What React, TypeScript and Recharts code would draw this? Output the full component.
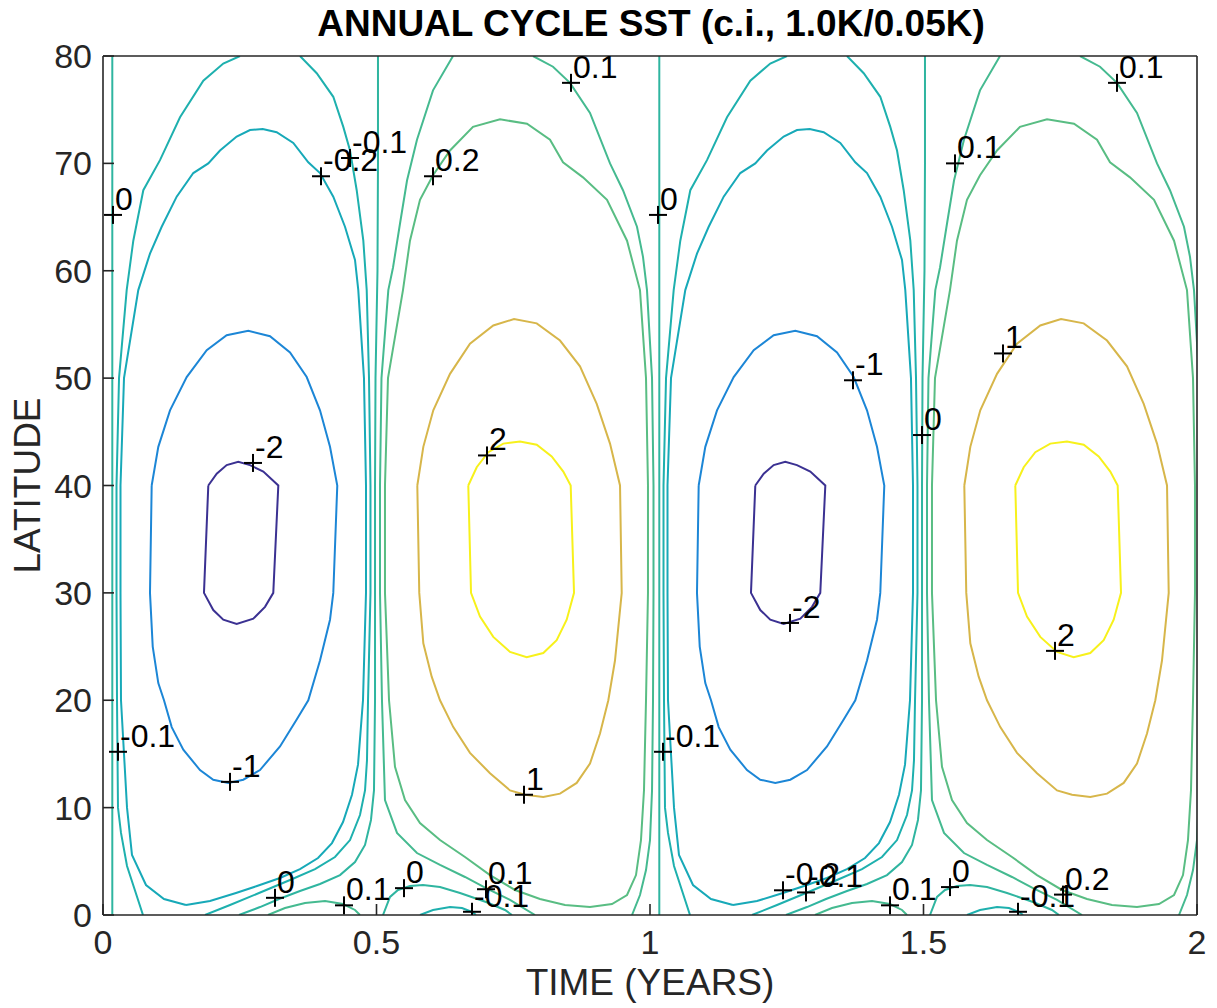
import React from 'react';
import { ComposedChart, Line, Scatter, XAxis, YAxis } from 'recharts';

const FONT = '"Liberation Sans", Arial, Helvetica, sans-serif';
const TITLE = 'ANNUAL CYCLE SST (c.i., 1.0K/0.05K)';
const X_TICKS = [0, 0.5, 1, 1.5, 2];
const Y_TICKS = [0, 10, 20, 30, 40, 50, 60, 70, 80];

// contour lines of the first year, [time (years), latitude]
const zeroWest = [[0.017, 0], [0.017, 80]];
const minus2Loop = [[0.1925, 40], [0.2079, 41.1], [0.2261, 41.9], [0.2473, 42.2], [0.2687, 41.9], [0.2931, 41.3], [0.3205, 40], [0.3113, 30], [0.2962, 28.7], [0.2748, 27.6], [0.2444, 27.1], [0.2199, 27.5], [0.2016, 28.4], [0.1846, 30], [0.1925, 40]];
const minus1Loop = [[0.089, 40], [0.1011, 43.6], [0.1225, 47.0], [0.153, 50.1], [0.1896, 52.6], [0.2261, 54.0], [0.2656, 54.4], [0.3053, 53.9], [0.3419, 52.4], [0.3724, 50.1], [0.3967, 47.0], [0.415, 43.6], [0.4283, 40], [0.421, 30], [0.415, 27.5], [0.3967, 23.7], [0.3753, 20], [0.3541, 18.2], [0.3236, 15.7], [0.287, 13.5], [0.2565, 12.6], [0.2291, 12.3], [0.2016, 12.6], [0.1773, 13.5], [0.1468, 15.4], [0.1256, 17.5], [0.1115, 20], [0.1011, 21.6], [0.0909, 25.0], [0.0859, 30], [0.089, 40]];
const plus1Loop = [[0.5746, 40], [0.5856, 43.6], [0.6038, 47.0], [0.6344, 50.4], [0.6709, 53.2], [0.7135, 54.9], [0.7514, 55.5], [0.7929, 55.1], [0.8355, 53.5], [0.872, 51.1], [0.9026, 47.6], [0.9269, 43.9], [0.9452, 40], [0.9483, 30], [0.936, 23.7], [0.9238, 20], [0.9086, 16.9], [0.8903, 14.1], [0.866, 12.3], [0.8355, 11.3], [0.8049, 11.0], [0.7715, 11.2], [0.7441, 11.6], [0.7075, 13.2], [0.6709, 15.1], [0.6404, 17.5], [0.6161, 20], [0.6009, 22.2], [0.5856, 25.3], [0.5782, 30], [0.5746, 40]];
const plus2Loop = [[0.6678, 40], [0.6832, 41.7], [0.7044, 43.1], [0.7318, 43.9], [0.7623, 44.1], [0.7929, 43.8], [0.8203, 42.7], [0.8415, 41.3], [0.855, 40], [0.8611, 30], [0.8477, 27.5], [0.8294, 25.6], [0.8049, 24.4], [0.7746, 24.0], [0.7441, 24.5], [0.7135, 25.9], [0.6892, 27.8], [0.6728, 30], [0.6678, 40]];
const minus02Loop = [[0.1517, 0.93], [0.1115, 1.49], [0.0786, 2.79], [0.053, 5.59], [0.0439, 10], [0.0329, 20], [0.032, 30], [0.032, 40], [0.0384, 50], [0.0645, 58.2], [0.0859, 61.6], [0.1073, 64.1], [0.1347, 66.9], [0.1651, 69.1], [0.1925, 70.0], [0.2139, 71.2], [0.2444, 72.5], [0.2687, 73.1], [0.292, 73.2], [0.3175, 72.9], [0.3479, 71.9], [0.3753, 70.1], [0.3967, 69.1], [0.421, 66.9], [0.4424, 64.1], [0.4607, 61.0], [0.4667, 58.2], [0.4771, 50], [0.4808, 40], [0.4808, 30], [0.4753, 20], [0.4662, 14.0], [0.4552, 11.2], [0.4388, 8.66], [0.4186, 6.7], [0.3931, 5.31], [0.3601, 4.28], [0.3236, 3.45], [0.2815, 2.7], [0.2431, 2.05], [0.1956, 1.3], [0.1517, 0.93]];
const minus01West = [[0.0731, 0], [0.0439, 4.56], [0.0329, 7.64], [0.0274, 10], [0.0256, 20], [0.0247, 30], [0.0247, 40], [0.0293, 50], [0.0433, 58.2], [0.0554, 62.8], [0.0737, 67.5], [0.1042, 70.3], [0.1408, 74.3], [0.1834, 77.7], [0.2199, 79.3], [0.2505, 80]];
const minus01East = [[0.3601, 80], [0.3907, 78.4], [0.421, 76.2], [0.4393, 73.4], [0.4516, 71.2], [0.4638, 67.5], [0.4759, 62.8], [0.4821, 58.2], [0.4863, 50], [0.489, 40], [0.489, 30], [0.4845, 20], [0.4826, 14.4], [0.479, 11.6], [0.4698, 9.31], [0.4516, 6.98], [0.4241, 5.4], [0.3876, 4.28], [0.3419, 3.26], [0.2852, 2.05], [0.2322, 0.93], [0.1865, 0]];
const zeroEast = [[0.5027, 80], [0.5027, 70], [0.5018, 60], [0.4982, 50], [0.4973, 40], [0.4973, 30], [0.4973, 20], [0.4954, 11.6], [0.4899, 8.85], [0.479, 6.52], [0.4607, 4.93], [0.4333, 3.72], [0.3967, 2.89], [0.3601, 2.23], [0.3218, 1.49], [0.287, 0.74], [0.2486, 0]];
const plus01Bump = [[0.3016, 0], [0.3327, 0.65], [0.3693, 1.12], [0.4059, 1.3], [0.4388, 1.02], [0.4607, 0.47], [0.4698, 0]];
const plus01West = [[0.6399, 80], [0.6033, 76.8], [0.574, 72.2], [0.5558, 68.4], [0.543, 64.4], [0.5302, 60.3], [0.5216, 58.2], [0.5091, 50], [0.5064, 40], [0.5064, 30], [0.51, 20], [0.5155, 10.7], [0.5375, 7.64], [0.574, 5.77], [0.6161, 4.66], [0.6618, 3.54], [0.7002, 2.51], [0.7441, 1.4], [0.7898, 0]];
const zeroArch = [[0.5119, 0], [0.5247, 1.68], [0.5393, 2.33], [0.5612, 2.7], [0.585, 2.79], [0.6161, 2.61], [0.6527, 2.05], [0.7002, 1.21], [0.7349, 0.47], [0.7477, 0]];
const minus01Bump = [[0.5795, 0], [0.6033, 0.47], [0.6344, 0.74], [0.6563, 0.65], [0.6746, 0.28], [0.6819, 0]];
const plus02Loop = [[0.5229, 20], [0.5155, 30], [0.5155, 40], [0.521, 50], [0.5484, 58.2], [0.5612, 62.8], [0.5795, 66.6], [0.6033, 68.9], [0.6344, 71.2], [0.6764, 73.4], [0.7258, 74.1], [0.7751, 73.7], [0.8172, 72.2], [0.841, 70.1], [0.8775, 68.7], [0.9214, 66.6], [0.958, 62.8], [0.9817, 58.2], [0.9927, 50], [0.9963, 40], [0.9963, 30], [0.9927, 20], [0.989, 11.6], [0.9835, 6.98], [0.9744, 3.72], [0.958, 1.86], [0.9305, 1.02], [0.8903, 0.74], [0.8446, 0.93], [0.7989, 1.49], [0.7532, 2.33], [0.7075, 3.72], [0.6618, 5.4], [0.6161, 6.98], [0.5795, 8.57], [0.5521, 10.7], [0.5338, 13.8], [0.5229, 20]];
const plus01East = [[0.9671, 0], [0.9817, 1.86], [0.9927, 4.19], [1.0, 6.98], [1.0037, 11.6], [1.0055, 20], [1.0064, 30], [1.0064, 40], [1.0037, 50], [0.9945, 58.2], [0.9872, 61.3], [0.9762, 64.1], [0.9506, 67.5], [0.9269, 70.0], [0.8903, 74.7], [0.8537, 77.5], [0.8227, 79.0], [0.7861, 80]];

const LEVEL_COLOR: Record<string, string> = {
  '-2': '#3b3192',
  '-1': '#1c86d6',
  '-0.2': '#17a9b8',
  '-0.1': '#1eb0ae',
  '0': '#2fb5a0',
  '0.1': '#45ba90',
  '0.2': '#59bd83',
  '1': '#d7b64a',
  '2': '#f7f11b',
};

const CONTOURS: { id: string; level: string; pts: number[][] }[] = [
  { id: 'zeroWest', level: '0', pts: zeroWest },
  { id: 'minus2Loop', level: '-2', pts: minus2Loop },
  { id: 'minus1Loop', level: '-1', pts: minus1Loop },
  { id: 'plus1Loop', level: '1', pts: plus1Loop },
  { id: 'plus2Loop', level: '2', pts: plus2Loop },
  { id: 'minus02Loop', level: '-0.2', pts: minus02Loop },
  { id: 'minus01West', level: '-0.1', pts: minus01West },
  { id: 'minus01East', level: '-0.1', pts: minus01East },
  { id: 'zeroEast', level: '0', pts: zeroEast },
  { id: 'plus01Bump', level: '0.1', pts: plus01Bump },
  { id: 'plus01West', level: '0.1', pts: plus01West },
  { id: 'zeroArch', level: '0', pts: zeroArch },
  { id: 'minus01Bump', level: '-0.1', pts: minus01Bump },
  { id: 'plus02Loop', level: '0.2', pts: plus02Loop },
  { id: 'plus01East', level: '0.1', pts: plus01East },
];

// contour labels (clabel "+" markers)
const LABELS = [
  { t: 0.0183, lat: 65.2, text: '0' },
  { t: 0.3985, lat: 68.8, text: '-0.2' },
  { t: 0.4516, lat: 70.5, text: '-0.1' },
  { t: 0.6033, lat: 68.8, text: '0.2' },
  { t: 0.8556, lat: 77.5, text: '0.1' },
  { t: 0.2742, lat: 42.1, text: '-2' },
  { t: 0.702, lat: 42.8, text: '2' },
  { t: 0.2322, lat: 12.4, text: '-1' },
  { t: 0.7697, lat: 11.2, text: '1' },
  { t: 0.0274, lat: 15.2, text: '-0.1' },
  { t: 0.3144, lat: 1.6, text: '0' },
  { t: 0.4406, lat: 0.9, text: '0.1' },
  { t: 0.5503, lat: 2.5, text: '0' },
  { t: 0.7002, lat: 2.4, text: '0.1' },
  { t: 0.6746, lat: 0.3, text: '-0.1' },
  { t: 1.0146, lat: 65.2, text: '0' },
  { t: 1.5576, lat: 70.0, text: '0.1' },
  { t: 1.8537, lat: 77.5, text: '0.1' },
  { t: 1.3711, lat: 49.8, text: '-1' },
  { t: 1.4973, lat: 44.7, text: '0' },
  { t: 1.6453, lat: 52.3, text: '1' },
  { t: 1.2559, lat: 27.2, text: '-2' },
  { t: 1.7404, lat: 24.6, text: '2' },
  { t: 1.0238, lat: 15.2, text: '-0.1' },
  { t: 1.2431, lat: 2.3, text: '-0.2' },
  { t: 1.2852, lat: 2.1, text: '-0.1' },
  { t: 1.4388, lat: 0.9, text: '0.1' },
  { t: 1.5484, lat: 2.6, text: '0' },
  { t: 1.755, lat: 1.9, text: '0.2' },
  { t: 1.6728, lat: 0.3, text: '-0.1' },
];

const toPts = (a: number[][]) => a.map(([t, lat]) => ({ t, lat }));

const LabelShape = (props: any) => {
  const { cx, cy, payload } = props;
  if (cx == null || cy == null) return <g />;
  return (
    <g>
      <line x1={cx - 9} y1={cy} x2={cx + 9} y2={cy} stroke="#000" strokeWidth={2} />
      <line x1={cx} y1={cy - 9} x2={cx} y2={cy + 9} stroke="#000" strokeWidth={2} />
      <text x={cx + 2} y={cy - 5} fontSize={32} fill="#000" fontFamily={FONT}>
        {payload.text}
      </text>
    </g>
  );
};

const AXIS_STROKE = { stroke: '#262626', strokeWidth: 1.6 };

export default function App() {
  return (
    <div style={{ position: 'relative', width: 1209, height: 1000, fontFamily: FONT }}>
      <div
        style={{
          position: 'absolute',
          left: 143,
          width: 1000,
          top: -3,
          textAlign: 'center',
          fontSize: 37,
          lineHeight: '37px',
          fontWeight: 'bold',
          color: '#000',
          fontFamily: FONT,
          whiteSpace: 'nowrap',
        }}
      >
        {TITLE}
      </div>
      <ComposedChart
        width={1209}
        height={1000}
        margin={{ top: 47, right: 19, bottom: 8, left: 0 }}
        style={{ fontFamily: FONT }}
      >
        <XAxis
          type="number"
          dataKey="t"
          domain={[0, 2]}
          ticks={X_TICKS}
          interval={0}
          allowDataOverflow
          height={85}
          tickSize={-11}
          tickMargin={26}
          tick={{ fontSize: 34, fill: '#262626' }}
          axisLine={AXIS_STROKE}
          tickLine={AXIS_STROKE}
          label={{ value: 'TIME (YEARS)', position: 'insideBottom', offset: 5, style: { fontSize: 37, fill: '#262626' } }}
        />
        <XAxis xAxisId="shift" type="number" dataKey="t" domain={[-1, 1]} allowDataOverflow hide />
        <XAxis
          xAxisId="top"
          orientation="top"
          type="number"
          dataKey="t"
          domain={[0, 2]}
          ticks={X_TICKS}
          interval={0}
          allowDataOverflow
          height={1}
          tick={false}
          tickSize={-11}
          axisLine={AXIS_STROKE}
          tickLine={AXIS_STROKE}
        />
        <YAxis
          type="number"
          dataKey="lat"
          domain={[0, 80]}
          ticks={Y_TICKS}
          interval={0}
          allowDataOverflow
          width={95}
          tickSize={-11}
          tickMargin={22}
          tick={{ fontSize: 34, fill: '#262626' }}
          axisLine={AXIS_STROKE}
          tickLine={AXIS_STROKE}
          label={{ value: 'LATITUDE', angle: -90, position: 'insideLeft', offset: 19, style: { fontSize: 37, fill: '#262626', textAnchor: 'middle' } }}
        />
        <YAxis
          yAxisId="right"
          orientation="right"
          type="number"
          dataKey="lat"
          domain={[0, 80]}
          ticks={Y_TICKS}
          interval={0}
          allowDataOverflow
          width={1}
          tick={false}
          tickSize={-11}
          axisLine={AXIS_STROKE}
          tickLine={AXIS_STROKE}
        />
        <Line
          xAxisId="top"
          yAxisId="right"
          data={toPts(zeroWest)}
          dataKey="lat"
          stroke="none"
          dot={false}
          activeDot={false}
          isAnimationActive={false}
        />
        {CONTOURS.map((c) => (
          <Line
            key={'y1-' + c.id}
            data={toPts(c.pts)}
            dataKey="lat"
            type="linear"
            stroke={LEVEL_COLOR[c.level]}
            strokeWidth={2}
            dot={false}
            activeDot={false}
            isAnimationActive={false}
          />
        ))}
        {CONTOURS.map((c) => (
          <Line
            key={'y2-' + c.id}
            xAxisId="shift"
            data={toPts(c.pts)}
            dataKey="lat"
            type="linear"
            stroke={LEVEL_COLOR[c.level]}
            strokeWidth={2}
            dot={false}
            activeDot={false}
            isAnimationActive={false}
          />
        ))}
        <Scatter data={LABELS} dataKey="lat" shape={LabelShape} isAnimationActive={false} />
      </ComposedChart>
    </div>
  );
}
